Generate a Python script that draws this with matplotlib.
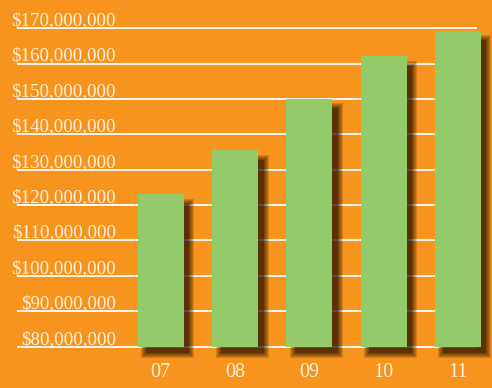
import matplotlib
matplotlib.use("Agg")
import matplotlib.pyplot as plt
from matplotlib.patches import Rectangle
import matplotlib.transforms as mtransforms

# Data
years = ["07", "08", "09", "10", "11"]
revenue = [123_000_000, 135_500_000, 150_000_000, 162_000_000, 169_200_000]
tick_values = [80_000_000, 90_000_000, 100_000_000, 110_000_000, 120_000_000,
               130_000_000, 140_000_000, 150_000_000, 160_000_000, 170_000_000]

ORANGE = "#F7941E"
GREEN = "#95CA6B"
TEXT = "#FFF1DE"
SHADOW = "#241000"
FONT = "Liberation Serif"

fig = plt.figure(figsize=(4.92, 3.88), dpi=100)
fig.patch.set_facecolor(ORANGE)
ax = fig.add_axes([0, 0, 1, 1])
ax.set_facecolor(ORANGE)
ax.set_axis_off()

ax.set_xlim(-2.166, 4.461)
ax.set_ylim(68_330_000, 177_940_000)

base = tick_values[0]
width = 0.62
px_x = 74.25            # pixels per category step
px_y = 3.54 / 1e6       # pixels per dollar

# horizontal gridlines with dollar labels sitting on top of them
for v in tick_values:
    ax.plot([-1.937, 4.259], [v, v], color="white", lw=1.3, zorder=1,
            solid_capstyle="butt")
    ax.annotate(f"${v:,.0f}", xy=(-0.603, v), xytext=(0, 3),
                textcoords="offset pixels", ha="right", va="baseline",
                fontsize=13.6, family=FONT, color=TEXT, zorder=2)

# soft drop shadows, built from stacked translucent rectangles
offset = mtransforms.offset_copy(ax.transData, fig=fig, x=5.5, y=-6.5,
                                 units="dots")
for i, v in enumerate(revenue):
    for r in range(0, 6):
        dx = r / px_x
        dy = r / px_y
        rect = Rectangle((i - width / 2 - dx + 3 / px_x, base - dy),
                         width + 2 * dx - 3 / px_x,
                         (v - base) + 2 * dy - 3 / px_y,
                         facecolor=SHADOW, edgecolor="none",
                         alpha=0.35 if r == 0 else 0.16,
                         transform=offset, zorder=3)
        ax.add_patch(rect)

# bars
ax.bar(range(len(years)), [v - base for v in revenue], bottom=base,
       width=width, color=GREEN, edgecolor="none", zorder=4)

# year labels
for i, y in enumerate(years):
    ax.annotate(y, xy=(i, base), xytext=(0, -26), textcoords="offset pixels",
                ha="center", va="center", fontsize=14.5, family=FONT,
                color=TEXT, zorder=5)

fig.savefig("out.png", dpi=100, facecolor=ORANGE)
